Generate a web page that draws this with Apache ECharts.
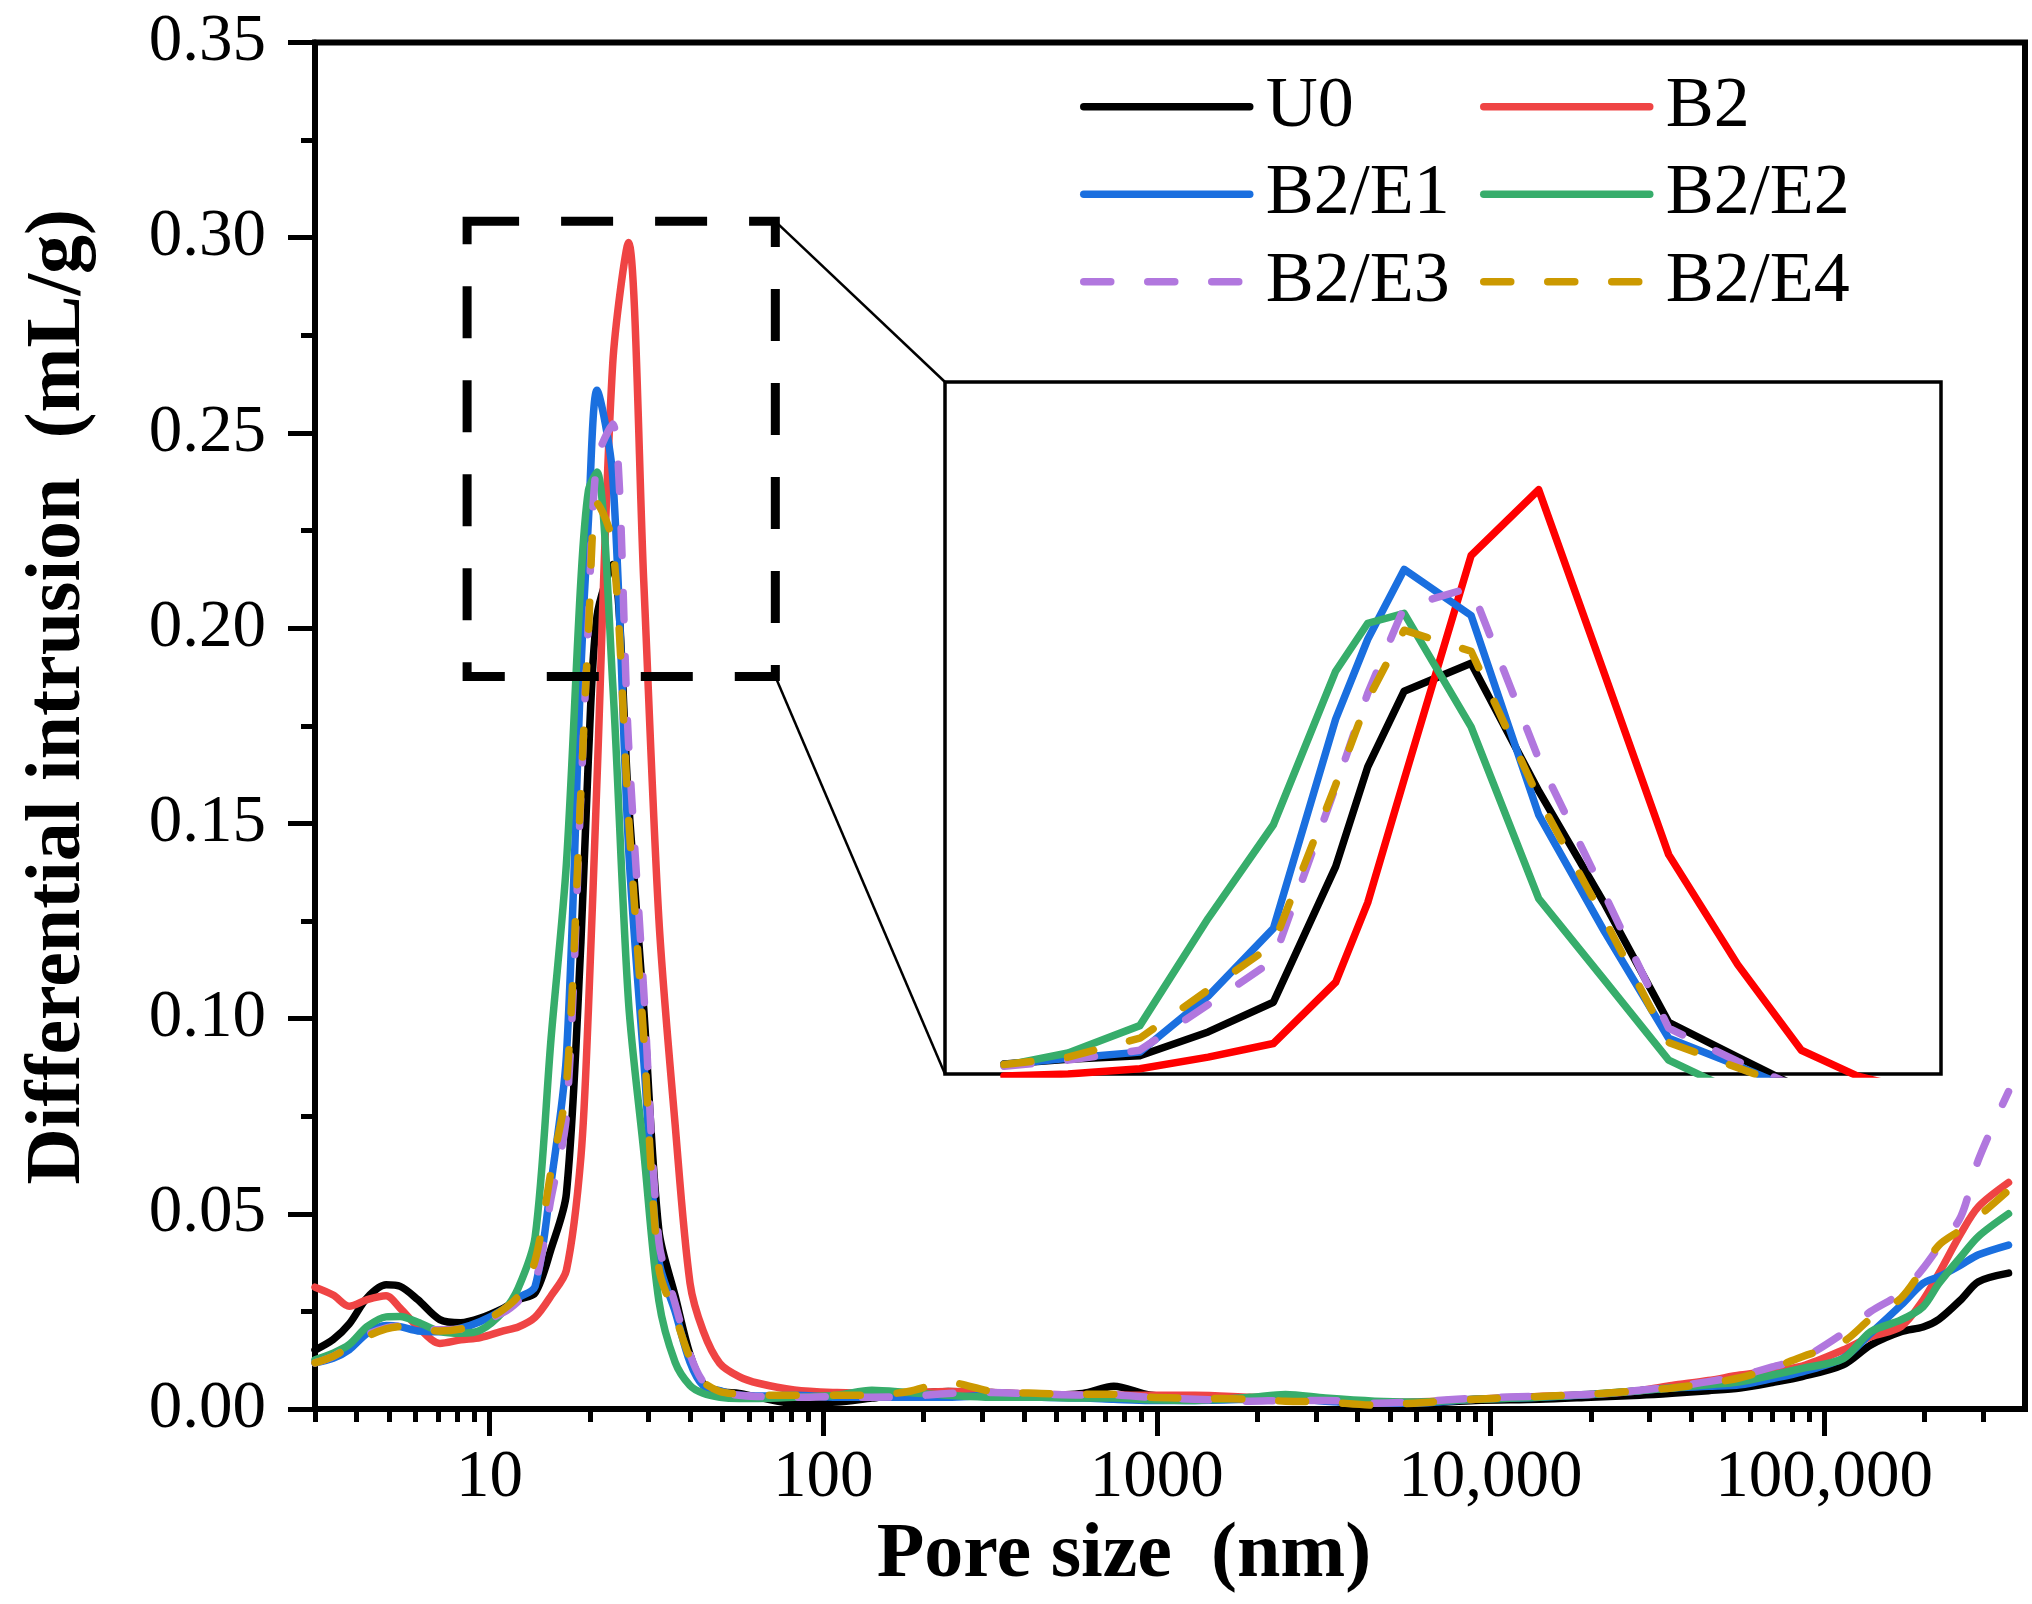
<!DOCTYPE html>
<html>
<head>
<meta charset="utf-8">
<title>Differential intrusion</title>
<script src="https://cdn.jsdelivr.net/npm/echarts@6.0.0/dist/echarts.min.js"></script>
<style>
  html, body { margin: 0; padding: 0; background: #fff; }
  #chart { width: 2032px; height: 1604px; }
</style>
</head>
<body>
<div id="chart"></div>
<script>
// pore size grid (nm), shared by all samples
var poreSize = [3.0, 3.4, 3.8, 4.3, 4.9, 5.4, 6.1, 7.1, 8.2, 9.4,
    11.0, 12.2, 13.7, 15.3, 17.0, 18.8, 19.8, 21.0, 23.4, 26.1,
    29.0, 32.2, 36.0, 39.9, 43.7, 49, 56, 64, 82, 110,
    140, 180, 237, 320, 450, 600, 743, 950, 1300, 1900,
    2430, 3200, 4500, 5900, 9000, 14000, 20000, 28000, 35000, 45000,
    56000, 70000, 86000, 114000, 138000, 170000, 198000, 221000, 257000, 290000, 357000];

// differential intrusion (mL/g)
var u0 = [.0151, .0178, .0218, .0285, .0318, .0314, .0280, .0229, .0221, .0233,
    .0258, .0280, .0297, .0410, .0551, .1196, .1670, .2030, .2163, .1556,
    .1025, .0456, .0290, .0140, .0065, .0045, .0040, .0030, .0015, .0018,
    .0028, .0038, .0045, .0042, .0036, .0040, .0058, .0036, .0030, .0028,
    .0030, .0022, .0015, .0015, .0022, .0025, .0030, .0035, .0040, .0047,
    .0054, .0068, .0083, .0113, .0164, .0198, .0210, .0230, .0280, .0326, .0348];
var b2 = [.0312, .0292, .0263, .0280, .0290, .0258, .0210, .0168, .0177, .0183,
    .0200, .0210, .0235, .0290, .0355, .0646, .1025, .1610, .2675, .2988,
    .2120, .1253, .0730, .0323, .0200, .0117, .0083, .0066, .0049, .0042,
    .0040, .0042, .0045, .0042, .0038, .0036, .0036, .0035, .0035, .0030,
    .0027, .0022, .0017, .0018, .0025, .0032, .0037, .0047, .0060, .0073,
    .0087, .0098, .0110, .0151, .0185, .0211, .0279, .0348, .0450, .0518, .0580];
var b2e1 = [.0118, .0130, .0152, .0194, .0214, .0211, .0200, .0198, .0207, .0224,
    .0255, .0285, .0314, .0580, .0902, .1897, .2277, .2609, .2390, .1442,
    .0892, .0380, .0250, .0120, .0060, .0047, .0035, .0033, .0035, .0030,
    .0030, .0030, .0030, .0035, .0030, .0028, .0025, .0022, .0022, .0025,
    .0028, .0020, .0015, .0015, .0025, .0030, .0037, .0047, .0054, .0058,
    .0062, .0078, .0095, .0130, .0194, .0266, .0322, .0339, .0369, .0395, .0420];
var b2e2 = [.0126, .0143, .0165, .0211, .0236, .0237, .0222, .0199, .0194, .0202,
    .0250, .0310, .0440, .0950, .1395, .2125, .2353, .2400, .1860, .1044,
    .0660, .0276, .0120, .0060, .0040, .0030, .0027, .0027, .0030, .0035,
    .0048, .0042, .0035, .0030, .0030, .0028, .0028, .0024, .0022, .0030,
    .0037, .0028, .0020, .0018, .0025, .0030, .0038, .0047, .0054, .0062,
    .0070, .0087, .0104, .0129, .0198, .0228, .0262, .0322, .0390, .0442, .0500];
var b2e3 = [.0118, .0135, .0160, .0190, .0208, .0212, .0206, .0203, .0205, .0222,
    .0247, .0276, .0323, .0540, .0750, .1575, .2020, .2430, .2523, .1708,
    .1070, .0428, .0270, .0140, .0070, .0045, .0035, .0032, .0030, .0032,
    .0030, .0032, .0040, .0042, .0038, .0036, .0036, .0030, .0025, .0020,
    .0022, .0022, .0015, .0018, .0028, .0033, .0038, .0048, .0057, .0070,
    .0085, .0108, .0130, .0194, .0250, .0297, .0360, .0416, .0493, .0638, .0813];
var b2e4 = [.0118, .0135, .0158, .0186, .0205, .0211, .0205, .0200, .0205, .0220,
    .0255, .0290, .0380, .0610, .0826, .1585, .1990, .2320, .2220, .1520,
    .0950, .0360, .0240, .0130, .0070, .0045, .0038, .0035, .0035, .0035,
    .0035, .0045, .0068, .0045, .0040, .0038, .0038, .0030, .0028, .0025,
    .0020, .0018, .0010, .0015, .0025, .0032, .0038, .0047, .0054, .0066,
    .0080, .0105, .0134, .0172, .0232, .0284, .0360, .0420, .0459, .0493, .0560];

var sampleNames = ['U0', 'B2', 'B2/E1', 'B2/E2', 'B2/E3', 'B2/E4'];
var sampleValues = [u0, b2, b2e1, b2e2, b2e3, b2e4];

var xMajorTicks = [10, 100, 1000, 10000, 100000];
var xMinorTicks = [3, 4, 5, 6, 7, 8, 9, 20, 30, 40, 50, 60, 70, 80, 90,
    200, 300, 400, 500, 600, 700, 800, 900, 2000, 3000, 4000, 5000, 6000, 7000, 8000, 9000,
    20000, 30000, 40000, 50000, 60000, 70000, 80000, 90000, 200000, 300000];

// zoomed window shown in the inset (nm, mL/g)
var zoomX = [8.57, 71.9];
var zoomY = [0.1876, 0.3042];
var insetX = [10, 50];
var insetY = [0.021, 0.35];

var colors = ['#000000', '#EF4444', '#1A6FDF', '#37AD6B', '#B177DE', '#CC9900'];
var insetColors = ['#000000', '#FF0000', '#1A6FDF', '#37AD6B', '#B177DE', '#CC9900'];
var FONT = '"Liberation Serif", "Times New Roman", serif';
var LINE_W = 7.5;

function lineStyleFor(color, dashed) {
    return {
        color: color,
        width: LINE_W,
        type: dashed ? [27, 37] : 'solid',
        cap: 'round',
        join: 'round'
    };
}

function buildSeries() {
    var list = [];
    for (var i = 0; i < sampleNames.length; i++) {
        var pts = [];
        for (var j = 0; j < poreSize.length; j++) {
            pts.push([poreSize[j], sampleValues[i][j]]);
        }
        list.push({
            name: sampleNames[i],
            type: 'line',
            xAxisIndex: 0,
            yAxisIndex: 0,
            symbol: 'none',
            showSymbol: false,
            smooth: 0.3,
            lineStyle: lineStyleFor(colors[i], i >= 4),
            itemStyle: {color: colors[i]},
            emphasis: {disabled: true},
            data: pts
        });
    }
    // inset copies, straight segments
    for (var k = 0; k < sampleNames.length; k++) {
        var ipts = [];
        for (var m = 0; m < poreSize.length; m++) {
            if (poreSize[m] >= insetX[0]) {
                ipts.push([poreSize[m], sampleValues[k][m]]);
            }
        }
        list.push({
            name: sampleNames[k],
            type: 'line',
            xAxisIndex: 2,
            yAxisIndex: 1,
            symbol: 'none',
            showSymbol: false,
            smooth: false,
            clip: true,
            lineStyle: lineStyleFor(insetColors[k], k >= 4),
            itemStyle: {color: insetColors[k]},
            emphasis: {disabled: true},
            data: ipts
        });
    }
    return list;
}

function legendBlock(names, left) {
    return {
        data: names,
        orient: 'vertical',
        left: left,
        top: 63,
        padding: 0,
        itemGap: 0,
        itemWidth: 166,
        itemHeight: 14,
        selectedMode: false,
        itemStyle: {opacity: 0},
        lineStyle: {width: LINE_W},
        textStyle: {
            fontFamily: FONT,
            fontSize: 72,
            color: '#000',
            lineHeight: 87.5,
            padding: [0, 0, 0, 11]
        }
    };
}

var chart = echarts.init(document.getElementById('chart'), null, {renderer: 'canvas'});

var option = {
    animation: false,
    backgroundColor: '#fff',
    legend: [
        legendBlock(['U0', 'B2/E1', 'B2/E3'], 1080),
        legendBlock(['B2', 'B2/E2', 'B2/E4'], 1480)
    ],
    grid: [
        {
            left: 315, right: 7, top: 42.5, bottom: 195,
            outerBoundsMode: 'none',
            show: true, borderColor: '#000', borderWidth: 6
        },
        {
            left: 945, right: 91, top: 382, bottom: 530,
            outerBoundsMode: 'none',
            show: true, borderColor: '#000', borderWidth: 3.5, backgroundColor: '#fff'
        }
    ],
    xAxis: [
        {
            type: 'log',
            logBase: 10,
            gridIndex: 0,
            min: 3,
            max: 400000,
            position: 'bottom',
            name: 'Pore size  (nm)',
            nameLocation: 'middle',
            nameGap: 103,
            nameTextStyle: {
                fontFamily: FONT, fontSize: 78, fontWeight: 'bold', color: '#000',
                padding: [0, 92, 0, 0]
            },
            axisLine: {show: true, lineStyle: {color: '#000', width: 6}},
            axisTick: {
                show: true, inside: false, length: 27,
                customValues: xMajorTicks,
                lineStyle: {color: '#000', width: 5}
            },
            axisLabel: {
                show: true, margin: 36,
                customValues: xMajorTicks,
                fontFamily: FONT, fontSize: 67, color: '#000',
                formatter: function (v) {
                    return v >= 10000 ? Number(v).toLocaleString('en-US') : String(v);
                }
            },
            splitLine: {show: false},
            minorTick: {show: false}
        },
        {
            type: 'log',
            logBase: 10,
            gridIndex: 0,
            min: 3,
            max: 400000,
            position: 'bottom',
            axisLine: {show: false},
            axisTick: {
                show: true, inside: false, length: 13,
                customValues: xMinorTicks,
                lineStyle: {color: '#000', width: 5}
            },
            axisLabel: {show: false},
            splitLine: {show: false}
        },
        {
            type: 'log',
            logBase: 10,
            gridIndex: 1,
            min: insetX[0],
            max: insetX[1],
            show: false
        }
    ],
    yAxis: [
        {
            type: 'value',
            gridIndex: 0,
            min: 0,
            max: 0.35,
            interval: 0.05,
            name: 'Differential intrusion  (mL/g)',
            nameLocation: 'middle',
            nameRotate: 90,
            nameGap: 217,
            nameTextStyle: {
                fontFamily: FONT, fontSize: 78, fontWeight: 'bold', color: '#000',
                padding: [0, 0, 0, 58]
            },
            axisLine: {show: true, lineStyle: {color: '#000', width: 6}},
            axisTick: {show: true, inside: false, length: 27, lineStyle: {color: '#000', width: 5}},
            minorTick: {show: true, splitNumber: 2, length: 14, lineStyle: {color: '#000', width: 5}},
            axisLabel: {
                margin: 49,
                fontFamily: FONT, fontSize: 67, color: '#000',
                formatter: function (v) { return v.toFixed(2); }
            },
            splitLine: {show: false},
            minorSplitLine: {show: false}
        },
        {
            type: 'value',
            gridIndex: 1,
            min: insetY[0],
            max: insetY[1],
            show: false,
            splitLine: {show: false}
        }
    ],
    series: buildSeries()
};

chart.setOption(option);

// dashed zoom window and the two leader lines to the inset
function drawZoomMarks() {
    var main = {xAxisIndex: 0, yAxisIndex: 0};
    var inset = {xAxisIndex: 2, yAxisIndex: 1};
    var tl = chart.convertToPixel(main, [zoomX[0], zoomY[1]]);
    var br = chart.convertToPixel(main, [zoomX[1], zoomY[0]]);
    var itl = chart.convertToPixel(inset, [insetX[0], insetY[1]]);
    var ibl = chart.convertToPixel(inset, [insetX[0], insetY[0]]);
    chart.setOption({
        graphic: [
            {
                type: 'rect',
                z: 100,
                shape: {x: tl[0], y: tl[1], width: br[0] - tl[0], height: br[1] - tl[1]},
                style: {fill: null, stroke: '#000', lineWidth: 9, lineDash: [52, 42]}
            },
            {
                type: 'line',
                z: 100,
                shape: {x1: br[0], y1: tl[1], x2: itl[0], y2: itl[1]},
                style: {stroke: '#000', lineWidth: 2.5}
            },
            {
                type: 'line',
                z: 100,
                shape: {x1: br[0], y1: br[1], x2: ibl[0], y2: ibl[1]},
                style: {stroke: '#000', lineWidth: 2.5}
            }
        ]
    });
}

drawZoomMarks();
</script>
</body>
</html>
